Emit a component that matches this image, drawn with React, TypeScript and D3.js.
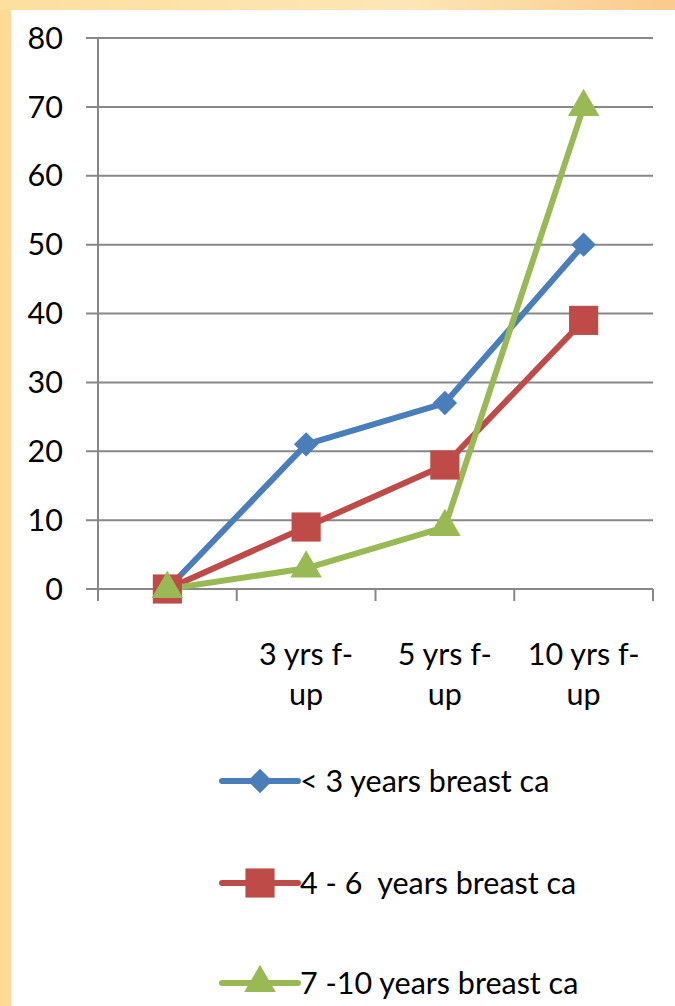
import { useEffect, useRef } from 'react';
import * as d3 from 'd3';

const categories = ['', '3 yrs f-up', '5 yrs f-up', '10 yrs f-up'];
const categoryLines = [[''], ['3 yrs f-', 'up'], ['5 yrs f-', 'up'], ['10 yrs f-', 'up']];
const under3 = [0, 21, 27, 50];
const from4to6 = [0, 9, 18, 39];
const from7to10 = [0, 3, 9, 70];
const yTicks = [0, 10, 20, 30, 40, 50, 60, 70, 80];

const series = [
	{ name: '< 3 years breast ca', values: under3, color: '#4A7EBB', marker: 'diamond' },
	{ name: '4 - 6  years breast ca', values: from4to6, color: '#BE4B48', marker: 'square' },
	{ name: '7 -10 years breast ca', values: from7to10, color: '#98B954', marker: 'triangle' },
];

const W = 675;
const H = 1006;
const FONT = 'Lato, "Open Sans", sans-serif';
const FS = '30.5px';

export default function App() {
	const svgRef = useRef<SVGSVGElement | null>(null);

	useEffect(() => {
		if (!svgRef.current) return;
		const svg = d3.select(svgRef.current);
		svg.selectAll('*').remove();

		const margin = { top: 38, right: 22, bottom: 417, left: 98 };

		// background: orange frame + white panel
		const defs = svg.append('defs');
		const grad = defs
			.append('linearGradient')
			.attr('id', 'frame')
			.attr('x1', 0)
			.attr('x2', 1)
			.attr('y1', 0)
			.attr('y2', 0);
		grad.append('stop').attr('offset', '0%').attr('stop-color', '#FDDF9E');
		grad.append('stop').attr('offset', '60%').attr('stop-color', '#FDE6B6');
		grad.append('stop').attr('offset', '100%').attr('stop-color', '#F9CB8C');
		svg.append('rect').attr('width', W).attr('height', H).attr('fill', 'url(#frame)');
		svg.append('rect').attr('x', 0).attr('y', 10).attr('width', 11).attr('height', H).attr('fill', '#FDDA96');
		svg.append('rect').attr('x', 11).attr('y', 10).attr('width', W - 11).attr('height', H - 10).attr('fill', '#fff');

		const x = d3
			.scaleBand<string>()
			.domain(categories)
			.range([margin.left, W - margin.right]);

		const y = d3
			.scaleLinear()
			.domain([0, 80])
			.range([H - margin.bottom, margin.top]);

		const grid = '#878787';

		// gridlines + y ticks
		svg
			.append('g')
			.selectAll('line')
			.data(yTicks)
			.join('line')
			.attr('x1', margin.left - 12)
			.attr('x2', W - margin.right)
			.attr('y1', (d) => y(d))
			.attr('y2', (d) => y(d))
			.attr('stroke', grid)
			.attr('stroke-width', 2);

		svg
			.append('g')
			.selectAll('text')
			.data(yTicks)
			.join('text')
			.attr('x', 63)
			.attr('y', (d) => y(d))
			.attr('dy', '0.35em')
			.attr('text-anchor', 'end')
			.style('font-family', FONT)
			.style('font-size', FS)
			.attr('fill', '#000')
			.text((d) => d);

		// y axis line
		svg
			.append('line')
			.attr('x1', margin.left)
			.attr('x2', margin.left)
			.attr('y1', y(80))
			.attr('y2', y(0))
			.attr('stroke', grid)
			.attr('stroke-width', 2);

		// x ticks at band edges
		const edges = categories.map((c) => x(c)!).concat([W - margin.right]);
		svg
			.append('g')
			.selectAll('line')
			.data(edges)
			.join('line')
			.attr('x1', (d) => d)
			.attr('x2', (d) => d)
			.attr('y1', y(0))
			.attr('y2', y(0) + 12)
			.attr('stroke', grid)
			.attr('stroke-width', 2);

		// x labels
		const xl = svg
			.append('g')
			.selectAll('text')
			.data(categories)
			.join('text')
			.attr('x', (d) => x(d)! + x.bandwidth() / 2)
			.attr('y', y(0) + 76)
			.attr('text-anchor', 'middle')
			.style('font-family', FONT)
			.style('font-size', FS)
			.attr('fill', '#000');
		xl.selectAll('tspan')
			.data((d, i) => categoryLines[i])
			.join('tspan')
			.attr('x', function () {
				return (this.parentNode as SVGTextElement).getAttribute('x');
			})
			.attr('dy', (d, i) => (i === 0 ? 0 : 40))
			.text((d) => d);

		const cx = (i: number) => x(categories[i])! + x.bandwidth() / 2;

		const markerPath = (m: string) => {
			if (m === 'diamond') return d3.symbol(d3.symbolDiamond2, 380)()!;
			if (m === 'square') return d3.symbol(d3.symbolSquare, 850)()!;
			return d3.symbol(d3.symbolTriangle, 430)()!;
		};

		const line = d3
			.line<number>()
			.x((d, i) => cx(i))
			.y((d) => y(d));

		series.forEach((s) => {
			svg
				.append('path')
				.attr('d', line(s.values))
				.attr('fill', 'none')
				.attr('stroke', s.color)
				.attr('stroke-width', 6)
				.attr('stroke-linejoin', 'round');
		});
		series.forEach((s) => {
			svg
				.append('g')
				.selectAll('path')
				.data(s.values)
				.join('path')
				.attr('d', markerPath(s.marker))
				.attr('transform', (d, i) => `translate(${cx(i)},${y(d)})`)
				.attr('fill', s.color);
		});

		// legend
		const legendY = [781, 883, 983];
		series.forEach((s, i) => {
			const g = svg.append('g').attr('transform', `translate(0,${legendY[i]})`);
			g.append('line')
				.attr('x1', 222)
				.attr('x2', 298)
				.attr('stroke', s.color)
				.attr('stroke-width', 6)
				.attr('stroke-linecap', 'round');
			g.append('path')
				.attr('d', markerPath(s.marker))
				.attr('transform', 'translate(260,0)')
				.attr('fill', s.color);
			g.append('text')
				.attr('x', 300)
				.attr('dy', '0.35em')
				.style('font-family', FONT)
				.style('font-size', FS)
				.style('white-space', 'pre')
				.attr('fill', '#000')
				.text(s.name);
		});
	}, []);

	return (
		<svg
			ref={svgRef}
			width={W}
			height={H}
			style={{ position: 'absolute', left: 0, top: 0, display: 'block' }}
		/>
	);
}
